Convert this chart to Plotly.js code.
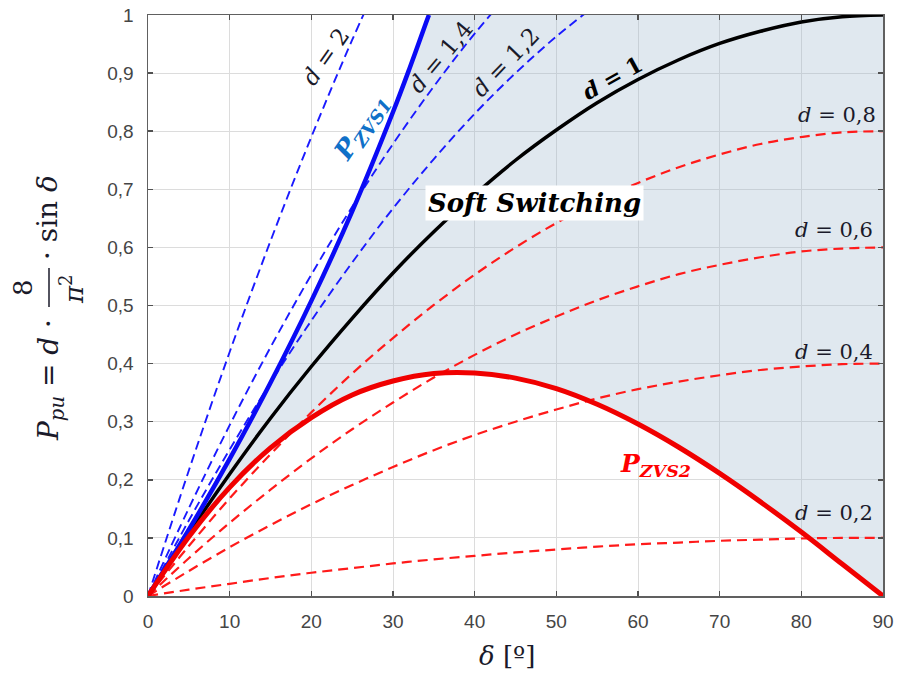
<!DOCTYPE html>
<html>
<head>
<meta charset="utf-8">
<script src="https://cdn.plot.ly/plotly-3.0.1.min.js"></script>
<style>html,body{margin:0;padding:0;background:#fff;}#chart{width:897px;height:675px;}</style>
</head>
<body>
<div id="chart"></div>
<script>
// ---- data ----
var delta = [0,5,10,15,20,25,30,35,40,45,50,55,60,65,70,75,80,85,90];
var d1   = [0,0.108,0.210,0.306,0.395,0.478,0.556,0.627,0.691,0.750,0.802,0.849,0.889,0.923,0.951,0.972,0.988,0.997,1.000];
var d08  = [0,0.086,0.168,0.244,0.316,0.383,0.444,0.501,0.553,0.600,0.642,0.679,0.711,0.738,0.760,0.778,0.790,0.798,0.800];
var d06  = [0,0.065,0.126,0.183,0.237,0.287,0.333,0.376,0.415,0.450,0.481,0.509,0.533,0.554,0.570,0.583,0.593,0.598,0.600];
var d04  = [0,0.043,0.084,0.122,0.158,0.191,0.222,0.251,0.277,0.300,0.321,0.340,0.356,0.369,0.380,0.389,0.395,0.399,0.400];
var d02  = [0,0.011,0.021,0.031,0.040,0.048,0.056,0.063,0.069,0.075,0.080,0.085,0.089,0.092,0.095,0.097,0.099,0.100,0.100];
var d12  = [0,0.130,0.252,0.367,0.474,0.574,0.667,0.752,0.830,0.900,0.963,1.019];
var d14  = [0,0.151,0.294,0.428,0.553,0.670,0.778,0.877,0.968,1.050];
var d2   = [0,0.216,0.420,0.611,0.790,0.957,1.111];
var zvs1X = [0,5,10,15,20,25,30,32,34,34.4];
var zvs1Y = [0,0.114,0.236,0.367,0.508,0.662,0.833,0.907,0.985,1.0];
var zvs2  = [0,0.102,0.187,0.255,0.307,0.346,0.370,0.383,0.384,0.375,0.357,0.330,0.296,0.256,0.211,0.162,0.110,0.055,0];
var xTicks = [0,10,20,30,40,50,60,70,80,90];
var yTicks = [0,0.1,0.2,0.3,0.4,0.5,0.6,0.7,0.8,0.9,1];
var yTickText = ["0","0,1","0,2","0,3","0,4","0,5","0,6","0,7","0,8","0,9","1"];

// ---- shaded soft-switching region ----
var regX = zvs1X.concat([90]).concat(delta.slice().reverse());
var regY = zvs1Y.concat([1]).concat(zvs2.slice().reverse());

function dashed(x, y, color, w, dash) {
  return {x: x, y: y, mode: 'lines', type: 'scatter', hoverinfo: 'skip',
          line: {color: color, width: w, dash: dash, shape: 'spline'}};
}
var blueDash = '9px,5px', redDash = '10px,6px';
var traces = [
  {x: regX, y: regY, type: 'scatter', mode: 'lines', fill: 'toself',
   fillcolor: 'rgba(160,185,205,0.33)', line: {width: 0}, hoverinfo: 'skip'},
  dashed(delta, d02, '#ff1a1a', 2.2, redDash),
  dashed(delta, d04, '#ff1a1a', 2.2, redDash),
  dashed(delta, d06, '#ff1a1a', 2.2, redDash),
  dashed(delta, d08, '#ff1a1a', 2.2, redDash),
  dashed(delta.slice(0, d12.length), d12, '#1a1aff', 1.9, blueDash),
  dashed(delta.slice(0, d14.length), d14, '#1a1aff', 1.9, blueDash),
  dashed(delta.slice(0, d2.length), d2, '#1a1aff', 1.9, blueDash),
  {x: delta, y: d1, type: 'scatter', mode: 'lines', hoverinfo: 'skip',
   line: {color: '#000000', width: 3.5, shape: 'spline'}},
  {x: zvs1X, y: zvs1Y, type: 'scatter', mode: 'lines', hoverinfo: 'skip',
   line: {color: '#0a0af5', width: 4.5, shape: 'spline'}},
  {x: delta, y: zvs2, type: 'scatter', mode: 'lines', hoverinfo: 'skip',
   line: {color: '#f00000', width: 5, shape: 'spline'}}
];

var mathFont = 'DejaVu Serif';
function lab(x, y, text, angle, size, color) {
  return {x: x, y: y, xref: 'x', yref: 'y', text: text, showarrow: false,
          textangle: angle, xanchor: 'center', yanchor: 'middle',
          font: {family: mathFont, size: size, color: color || '#1a1a2a'}};
}
// paper helpers for the y-axis title pieces (plot area 148..883 x 15..596 px)
function pxX(px) { return (px - 148) / 735; }
function pxY(py) { return (596 - py) / 581; }
function ptitle(px, py, text, size) {
  return {x: pxX(px), y: pxY(py), xref: 'paper', yref: 'paper', text: text,
          showarrow: false, textangle: -90, xanchor: 'center', yanchor: 'middle',
          font: {family: mathFont, size: size, color: '#1a1a2a'}};
}

var annotations = [
  lab(21.7, 0.928, '<i>d</i> = 2', -55, 23),
  lab(35.8, 0.928, '<i>d</i> = 1,4', -50, 23),
  lab(43.8, 0.919, '<i>d</i> = 1,2', -46, 23),
  lab(56.8, 0.892, '<b><i>d</i> = 1</b>', -29, 22, '#000'),
  lab(84.4, 0.828, '<i>d</i> = 0,8', 0, 21),
  lab(84.0, 0.630, '<i>d</i> = 0,6', 0, 21),
  lab(84.0, 0.420, '<i>d</i> = 0,4', 0, 21),
  lab(84.0, 0.143, '<i>d</i> = 0,2', 0, 21),
  lab(26.2, 0.806, '<b><i>P</i></b><sub><b><i>ZVS1</i></b></sub>', -56, 26, '#1070c8'),
  lab(62.1, 0.225, '<b><i>P</i></b><sub><b><i>ZVS2</i></b></sub>', 0, 25, '#ff0000'),
  {x: 47.3, y: 0.676, xref: 'x', yref: 'y', showarrow: false,
   text: '<b><i>Soft Switching</i></b>', bgcolor: '#ffffff', borderpad: 2,
   font: {family: mathFont, size: 26, color: '#000'}},
  // x-axis title
  {x: pxX(507), y: pxY(656), xref: 'paper', yref: 'paper', showarrow: false,
   text: '<i>δ</i> [º]', xanchor: 'center', yanchor: 'middle',
   font: {family: mathFont, size: 26, color: '#1a1a2a'}},
  // y-axis title pieces
  ptitle(50, 380, '<i>P</i><sub><i>pu</i></sub> = <i>d</i> ·', 28),
  ptitle(23, 288, '8', 26),
  ptitle(72, 289, '<i>π</i><sup>2</sup>', 26),
  ptitle(47, 218, '· sin <i>δ</i>', 28)
];

var shapes = [
  {type: 'line', xref: 'paper', yref: 'paper', x0: pxX(49), x1: pxX(49),
   y0: pxY(268), y1: pxY(307), line: {color: '#1a1a2a', width: 1.5}}
];

var axisCommon = {
  showgrid: true, gridcolor: '#dcdcdc', gridwidth: 1, zeroline: false,
  showline: true, linecolor: '#606060', linewidth: 1.5, mirror: 'ticks',
  ticks: 'inside', ticklen: 5, tickcolor: '#505050', tickwidth: 1.5,
  tickfont: {family: 'Liberation Sans', size: 19, color: '#454545'}
};

var layout = {
  width: 897, height: 675,
  margin: {l: 148, r: 14, t: 15, b: 79},
  paper_bgcolor: '#ffffff', plot_bgcolor: '#ffffff',
  showlegend: false,
  xaxis: Object.assign({}, axisCommon, {range: [0, 90], tickvals: xTicks, ticklabelstandoff: 8}),
  yaxis: Object.assign({}, axisCommon, {range: [0, 1], tickvals: yTicks, ticktext: yTickText, ticklabelstandoff: 9}),
  annotations: annotations,
  shapes: shapes
};

Plotly.newPlot('chart', traces, layout, {staticPlot: true, displayModeBar: false});
</script>
</body>
</html>
